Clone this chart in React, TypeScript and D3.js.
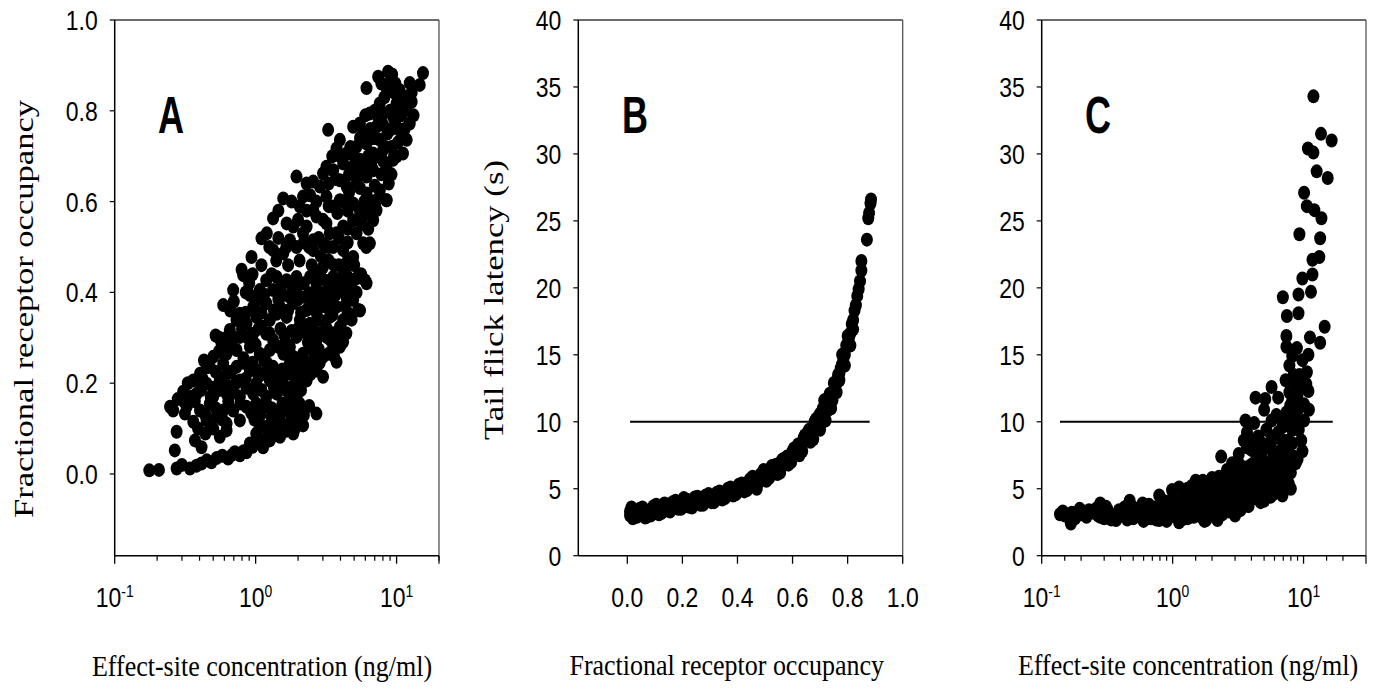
import React from 'react';
import * as d3 from 'd3';

// Panel A: [effect-site concentration (ng/ml), fractional receptor occupancy]
const occupancyVsConcentration: [number, number][] = [
  [6.12,0.850],[7.4,0.875],[8.7,0.886],[8.95,0.861],[15.4,0.883],[14.6,0.857],[12.4,0.861],[10.5,0.846],[11.8,0.831],[10.0,0.816],
  [7.6,0.816],[6.46,0.794],[8.03,0.794],[9.45,0.787],[11.8,0.802],[12.4,0.772],[10.5,0.758],[11.8,0.736],[11.1,0.706],[9.45,0.692],
  [8.48,0.677],[7.2,0.765],[7.6,0.736],[8.03,0.714],[6.82,0.706],[3.27,0.758],[4.92,0.765],[5.49,0.772],[5.8,0.750],[3.96,0.736],
  [3.75,0.717],[4.42,0.706],[5.2,0.721],[6.12,0.728],[6.82,0.669],[6.12,0.655],[3.18,0.677],[3.01,0.662],[3.55,0.669],[4.18,0.684],
  [4.92,0.677],[5.49,0.692],[1.95,0.655],[2.56,0.644],[2.86,0.633],[3.96,0.647],[4.42,0.633],[5.2,0.640],[6.12,0.618],[7.6,0.625],
  [8.48,0.603],[7.2,0.581],[6.82,0.559],[1.57,0.607],[2.17,0.611],[2.43,0.614],[2.06,0.589],[2.56,0.581],[3.18,0.611],[3.55,0.589],
  [3.96,0.603],[4.92,0.596],[5.49,0.581],[4.92,0.559],[4.18,0.545],[3.75,0.530],[1.33,0.563],[1.66,0.552],[1.85,0.545],[2.30,0.545],
  [2.70,0.567],[3.18,0.552],[3.36,0.530],[3.01,0.508],[2.56,0.515],[2.17,0.530],[1.10,0.519],[1.33,0.493],[1.57,0.486],[1.95,0.500],
  [2.56,0.493],[3.55,0.500],[4.18,0.493],[4.92,0.478],[5.8,0.508],[6.46,0.508],[5.2,0.530],[0.935,0.478],[0.795,0.450],
  [9.0,0.80],[9.8,0.77],[10.2,0.73],[8.6,0.75],[9.2,0.72],[12.8,0.82],[13.2,0.79],[10.8,0.79],[8.2,0.83],[9.6,0.84],
  [7.0,0.74],[6.6,0.68],[7.8,0.66],[8.8,0.64],[7.0,0.635],[5.9,0.60],[6.7,0.60],[8.49,0.603],[7.2,0.603],[6.7,0.574],
  [6.1,0.50],[5.96,0.427],[5.5,0.36],[4.07,0.288],[5.0,0.46],[4.5,0.47],[4.6,0.42],[5.2,0.40],[5.7,0.55],[6.3,0.54],
  [0.816,0.438],[1.19,0.427],[1.41,0.434],[1.66,0.427],[1.95,0.434],[2.43,0.434],[2.86,0.442],[3.55,0.434],[4.42,0.438],[5.2,0.431],
  [6.12,0.420],[0.693,0.405],[0.910,0.394],[1.07,0.405],[1.33,0.405],[1.57,0.394],[1.95,0.405],[2.43,0.398],[2.86,0.398],[3.36,0.416],
  [3.96,0.412],[4.42,0.390],[4.92,0.383],[5.34,0.361],[0.589,0.372],[0.773,0.353],[0.961,0.368],[1.19,0.376],[1.49,0.368],[1.85,0.376],
  [2.30,0.361],[2.56,0.376],[3.18,0.368],[3.75,0.368],[4.18,0.339],[0.656,0.317],[0.732,0.339],[0.861,0.331],[1.01,0.346],[1.26,0.339],
  [1.41,0.353],[1.66,0.346],[2.06,0.339],[2.43,0.331],[2.86,0.339],[3.36,0.346],[3.96,0.324],[4.18,0.291],[3.96,0.280],[0.573,0.287],
  [0.773,0.302],[0.961,0.309],[1.19,0.309],[1.33,0.295],[1.66,0.287],[1.95,0.302],[2.30,0.309],[2.70,0.295],[3.18,0.302],[3.55,0.280],
  [0.500,0.258],[0.622,0.265],[0.732,0.273],[0.910,0.280],[1.07,0.265],[1.26,0.273],[1.57,0.265],[1.85,0.258],[2.17,0.265],[2.56,0.273],
  [3.01,0.258],[3.75,0.247],[0.403,0.221],[0.473,0.236],[0.589,0.243],[0.732,0.236],[0.910,0.228],[1.13,0.221],[1.33,0.236],[1.66,0.221],
  [1.95,0.228],[2.30,0.236],[2.70,0.228],[3.01,0.214],[0.361,0.206],[0.449,0.199],[0.557,0.206],[0.656,0.192],[0.773,0.206],[1.01,0.199],
  [1.26,0.206],[1.57,0.199],[1.95,0.199],[2.30,0.206],[0.306,0.181],[0.382,0.177],[0.500,0.170],[0.622,0.177],[0.773,0.170],[0.961,0.177],
  [1.19,0.170],[1.41,0.177],[1.66,0.184],[1.95,0.170],[0.247,0.148],[0.324,0.148],[0.403,0.140],[0.473,0.155],[0.589,0.140],[0.693,0.140],
  [0.861,0.148],[1.01,0.155],[1.19,0.155],[1.41,0.133],[1.66,0.140],[1.95,0.140],[2.70,0.133],[0.315,0.133],[0.361,0.115],[0.449,0.118],
  [0.528,0.126],[0.622,0.111],[0.773,0.118],[1.07,0.104],[1.19,0.104],[1.49,0.118],[1.75,0.111],[2.17,0.107],[0.275,0.093],[0.371,0.074],
  [0.440,0.089],[0.413,0.059],[0.557,0.082],[0.622,0.096],[1.01,0.089],[1.26,0.074],[1.49,0.082],[1.85,0.089],[0.267,0.052],[0.910,0.067],
  [1.13,0.059],[0.861,0.052],[0.176,0.008],[0.206,0.009],[0.275,0.012],[0.342,0.012],[0.413,0.023],[0.486,0.026],[0.528,0.035],[0.638,0.034],
  [0.712,0.048],[0.773,0.041],[0.861,0.048],
  [0.9,0.42],[1.3,0.44],[1.8,0.415],[2.2,0.42],[2.6,0.445],[3.2,0.425],[4.0,0.43],[4.8,0.41],[5.6,0.44],[1.05,0.385],
  [1.45,0.385],[2.0,0.385],[2.65,0.39],[3.3,0.385],[4.2,0.405],[0.66,0.36],[0.85,0.355],[1.1,0.355],[1.35,0.36],[1.7,0.36],
  [2.1,0.355],[2.7,0.355],[3.0,0.37],[3.5,0.35],[4.5,0.355],[4.8,0.34],[0.62,0.3],[0.8,0.32],[1.1,0.325],[1.5,0.32],
  [1.8,0.315],[2.2,0.325],[2.6,0.315],[3.2,0.32],[3.6,0.31],[4.4,0.31],[0.52,0.305],[0.55,0.27],[0.68,0.28],[0.82,0.255],
  [1.0,0.285],[1.15,0.25],[1.45,0.28],[1.75,0.28],[2.0,0.25],[2.4,0.285],[2.8,0.275],[3.3,0.265],[3.6,0.26],[0.43,0.25],
  [0.52,0.225],[0.67,0.225],[0.82,0.245],[1.0,0.23],[1.2,0.245],[1.45,0.215],[1.75,0.245],[2.1,0.215],[2.45,0.22],[2.85,0.245],
  [0.33,0.2],[0.41,0.185],[0.5,0.19],[0.6,0.2],[0.7,0.18],[0.86,0.19],[1.1,0.185],[1.35,0.19],[1.8,0.19],[2.1,0.185],
  [0.28,0.165],[0.37,0.16],[0.44,0.13],[0.52,0.145],[0.64,0.16],[0.78,0.155],[0.93,0.135],[1.1,0.14],[1.3,0.125],[1.55,0.155],
  [1.8,0.125],[2.2,0.13],[0.3,0.02],[0.38,0.018],[0.45,0.03],[0.58,0.04],[0.68,0.042],[0.82,0.05],[0.95,0.06],[1.05,0.075],
  [1.2,0.08],[1.35,0.085],[1.6,0.1],[1.9,0.1],[2.05,0.115],[1.2,0.53],[1.45,0.52],[1.75,0.515],[2.4,0.5],[2.9,0.48],
  [3.3,0.47],[3.9,0.46],[4.5,0.51],[3.0,0.56],[3.8,0.575],[4.5,0.58],[5.8,0.57],[6.2,0.59],[2.3,0.58],[1.8,0.6],
  [1.45,0.58],[2.3,0.64],[3.3,0.64],[3.7,0.65],[4.6,0.66],[5.4,0.66],[5.8,0.68],[4.0,0.7],[4.7,0.72],[3.5,0.7],
  [5.5,0.74],[6.5,0.76],[6.0,0.79],[7.5,0.78],[8.5,0.85],[9.8,0.86],[11.0,0.82],[11.4,0.76],[12.8,0.84],[7.0,0.80],
  [8.0,0.77],[10.0,0.7],[9.2,0.66],[8.0,0.69],
  [0.35,0.17],[0.42,0.21],[0.48,0.17],[0.55,0.185],[0.62,0.22],[0.72,0.2],[0.85,0.21],[0.95,0.245],[1.05,0.215],[1.25,0.225],
  [1.55,0.23],[1.9,0.21],[2.2,0.245],[2.55,0.25],[0.45,0.235],[0.55,0.3],[0.7,0.3],[0.88,0.3],[1.05,0.32],[1.25,0.31],
  [1.6,0.305],[2.0,0.32],[2.35,0.29],[2.95,0.31],[3.4,0.295],[3.8,0.3],[0.7,0.38],[0.85,0.4],[1.15,0.395],[1.5,0.41],
  [1.75,0.39],[2.25,0.39],[2.7,0.42],[3.1,0.4],[3.7,0.395],[4.3,0.37],[0.95,0.44],[1.1,0.46],[1.4,0.47],[1.7,0.46],
  [2.05,0.47],[2.5,0.46],[3.0,0.455],[3.6,0.46],[4.2,0.45],[1.25,0.5],[1.65,0.5],[2.2,0.51],[2.8,0.52],[3.3,0.5],
  [3.9,0.52],[4.5,0.54],[2.0,0.56],[2.7,0.6],[3.3,0.59],[4.2,0.6],[4.6,0.62],[5.5,0.63],[5.0,0.7],[6.3,0.7],
  [6.8,0.74],[7.4,0.7],[8.3,0.72],[9.2,0.76],[10.2,0.81],[7.8,0.86],[9.3,0.88],[10.8,0.74],[9.6,0.7],[0.31,0.16],
  [0.26,0.14],[0.39,0.1],[0.5,0.1],[0.58,0.12],[0.98,0.12],[1.08,0.13],[1.4,0.1],[1.65,0.095],[2.0,0.12],[1.3,0.145],
  [1.5,0.14],[1.75,0.16],[2.05,0.155],[2.4,0.15],
];

// Panel B: [fractional receptor occupancy, tail flick latency (s)]
const latencyVsOccupancy: [number, number][] = [
  [0.01,3.0],[0.01,3.3],[0.02,3.1],[0.03,3.4],[0.04,3.0],[0.05,3.3],[0.06,3.2],[0.07,2.9],[0.08,3.4],[0.09,3.2],
  [0.10,3.5],[0.11,3.3],[0.12,3.6],[0.13,3.4],[0.14,3.7],[0.15,3.5],[0.16,3.8],[0.17,3.6],[0.18,3.9],[0.19,3.6],
  [0.20,3.9],[0.21,3.7],[0.22,4.0],[0.23,3.8],[0.24,4.1],[0.25,3.9],[0.26,4.2],[0.27,4.0],[0.28,4.3],[0.29,4.1],
  [0.30,4.4],[0.31,4.2],[0.32,4.5],[0.33,4.3],[0.34,4.6],[0.35,4.5],[0.36,4.8],[0.37,4.6],[0.38,4.9],[0.39,4.7],
  [0.40,5.1],[0.41,4.9],[0.42,5.3],[0.43,5.1],[0.44,5.5],[0.45,5.3],[0.46,5.7],[0.47,5.0],[0.48,5.9],[0.49,5.8],
  [0.50,6.2],[0.51,6.0],[0.52,6.5],[0.53,6.3],[0.54,6.8],[0.55,6.3],[0.56,7.1],[0.57,6.8],[0.58,7.4],[0.59,7.2],
  [0.60,7.8],[0.61,7.6],[0.62,8.3],[0.63,8.1],[0.64,8.8],[0.65,8.6],[0.66,9.4],[0.67,9.1],[0.68,10.0],[0.69,9.8],
  [0.70,10.6],[0.71,10.4],[0.72,11.3],[0.73,11.0],[0.74,12.0],[0.75,12.3],[0.76,12.9],[0.77,13.6],[0.78,14.3],[0.79,15.0],
  [0.80,15.8],[0.81,16.6],[0.82,17.6],[0.83,18.7],[0.84,19.9],[0.845,20.5],[0.85,21.3],[0.85,22.0],[0.87,23.6],[0.875,25.2],
  [0.878,25.6],[0.883,26.3],[0.885,26.6],
  [0.015,3.6],[0.035,2.9],[0.055,3.6],[0.075,3.2],[0.095,3.7],[0.115,3.1],[0.135,3.9],[0.155,3.3],[0.175,4.1],[0.195,3.5],
  [0.215,4.2],[0.235,3.6],[0.255,4.4],[0.275,3.8],[0.295,4.6],[0.315,4.0],[0.335,4.8],[0.355,4.3],[0.375,5.1],[0.395,4.6],
  [0.415,5.4],[0.435,4.9],[0.455,5.9],[0.475,5.4],[0.495,6.4],[0.515,5.8],[0.535,6.7],[0.555,6.2],[0.575,7.3],[0.595,7.0],
  [0.615,8.1],[0.635,7.8],[0.655,9.2],[0.675,8.7],[0.695,10.4],[0.705,9.9],[0.715,11.6],[0.725,10.8],[0.735,12.1],[0.745,11.6],
  [0.755,12.8],[0.765,13.5],[0.775,14.0],[0.785,14.8],[0.795,15.7],[0.805,16.3],[0.815,17.3],[0.825,18.3],[0.835,19.4],
  [0.02,2.8],[0.045,3.5],[0.065,2.85],[0.085,3.0],[0.105,3.8],[0.125,3.2],[0.145,3.4],[0.165,4.0],[0.185,3.5],[0.205,4.3],
  [0.225,3.65],[0.245,4.35],[0.265,3.8],[0.285,4.5],[0.305,4.0],[0.325,4.7],[0.345,4.2],[0.365,5.0],[0.385,4.5],[0.405,5.3],
  [0.425,4.8],[0.445,5.7],[0.465,5.2],[0.485,6.1],[0.505,5.6],[0.525,6.7],[0.545,6.1],[0.565,7.2],[0.585,6.8],[0.605,8.0],
  [0.625,7.5],[0.645,9.0],[0.665,8.5],[0.685,10.2],[0.70,9.4],[0.71,11.0],[0.72,10.1],[0.73,11.8],[0.74,11.0],[0.75,12.9],
  [0.76,12.2],[0.77,13.1],[0.78,15.0],[0.79,14.2],[0.80,16.4],[0.81,15.7],[0.82,16.9],
];

// Panel C: [effect-site concentration (ng/ml), tail flick latency (s)]
const latencyVsConcentration: [number, number][] = [
  [11.9,34.3],[13.6,31.5],[16.4,31.0],[10.8,30.4],[11.9,30.1],[12.6,28.7],[15.3,28.2],[10.1,27.1],[10.6,26.1],[12.1,25.8],
  [13.7,25.2],[9.3,24.0],[13.4,23.7],[13.2,22.3],[11.7,22.1],[11.7,21.0],[9.8,20.7],[11.4,19.7],[9.15,19.5],[6.95,19.3],
  [9.15,18.1],[7.46,17.9],[14.5,17.1],[7.4,16.4],[11.2,16.3],[13.4,15.9],[7.4,15.6],[8.9,15.5],[8.2,14.9],[10.9,15.0],
  [9.8,14.6],[10.6,13.7],[7.3,13.1],[8.7,12.8],[9.8,12.6],[10.9,12.3],[5.7,12.6],[4.3,11.8],[5.1,11.7],[6.4,11.8],
  [8.2,11.6],[10.1,11.3],[11.0,10.9],[5.0,10.9],[7.4,10.7],[8.7,10.8],[10.1,10.1],[3.6,10.1],[4.2,9.9],[5.7,10.1],
  [6.9,9.6],[8.2,9.4],[3.7,9.2],[4.5,8.9],[5.7,8.9],[6.9,8.6],[8.2,8.4],[9.8,7.8],[3.2,7.6],[4.0,7.9],
  [4.8,7.6],[5.9,7.4],[7.7,7.4],[2.35,7.4],[2.85,6.9],[3.7,6.6],[4.5,6.6],[5.7,6.4],[7.4,6.6],[8.7,6.9],
  [7.7,5.4],[5.9,4.6],[5.0,4.1],[3.8,3.7],[3.3,3.4],[2.26,2.9],[1.8,2.67],[1.5,5.6],[1.6,5.1],[1.9,5.3],
  [2.26,5.9],[2.7,5.6],[3.2,5.9],[3.7,5.1],[4.3,5.6],[5.0,5.1],[2.5,4.6],[3.2,4.3],[2.1,4.1],[1.8,4.4],
  [1.45,4.6],[1.12,5.1],[0.99,4.9],[0.79,4.5],[1.26,4.1],[1.05,3.66],[0.9,3.9],[0.76,3.4],[1.12,2.5],[1.75,2.6],
  [1.5,3.66],[0.66,3.8],[0.59,3.9],[0.47,4.1],[0.56,3.4],[0.47,3.1],[0.39,3.4],[0.37,2.67],[0.33,3.1],[0.28,3.9],
  [0.28,2.9],[0.23,3.4],[0.195,3.5],[0.167,2.4],[0.164,3.1],[0.138,3.1],[0.20,3.1],[0.31,3.66],[0.44,3.66],[0.62,3.1],
  [0.79,2.67],[0.94,3.4],[1.34,3.4],[2.0,3.4],[2.5,3.66],[2.2,2.67],[3.7,8.1],[5.4,8.1],[4.3,7.1],[5.7,5.9],
  [6.4,5.6],[3.8,6.1],[0.15,3.0],[0.25,3.2],[0.35,3.0],[0.42,3.3],[0.52,3.0],[0.7,3.2],[0.85,3.0],[1.0,3.2],
  [1.2,3.0],[1.4,3.1],[1.7,3.2],[0.6,2.6],[0.45,2.7],[0.3,2.8],[0.9,2.6],[1.3,2.8],[1.0,4.3],[1.4,4.3],
  [2.4,3.1],[2.9,3.7],[2.8,4.8],[2.0,4.9],[3.5,4.6],[4.2,4.3],[4.6,5.0],[3.0,3.0],
  [0.145,3.3],[0.17,3.2],[0.18,2.8],[0.21,3.3],[0.22,2.9],[0.26,3.5],[0.27,3.0],[0.32,3.4],[0.34,2.7],[0.4,3.0],
  [0.43,3.6],[0.5,3.6],[0.5,2.8],[0.55,3.1],[0.65,3.3],[0.68,2.8],[0.72,3.6],[0.75,2.7],[0.82,3.5],[0.88,3.2],
  [0.95,2.9],[1.08,3.4],[1.15,3.9],[1.18,2.7],[1.25,3.6],[1.35,3.9],[1.45,2.9],[1.55,3.4],[1.6,4.0],[1.65,2.9],
  [1.85,3.6],[1.95,3.0],[2.15,3.9],[2.3,3.4],[2.6,4.1],[2.7,3.3],[3.1,3.5],[3.5,3.9],[1.2,4.7],[1.3,5.0],
  [1.6,4.6],[1.9,4.7],[2.2,5.1],[2.4,5.4],[2.9,5.3],[3.0,6.3],[3.4,6.6],[4.0,6.8],[4.4,6.0],[5.2,6.2],
  [6.0,7.0],[6.6,7.8],[7.2,8.0],[3.9,5.4],[4.8,5.6],[5.4,5.3],[6.6,6.2],[7.0,5.0],[5.6,4.4],[6.2,8.8],
  [7.6,9.8],[8.6,10.3],[9.2,11.0],[6.2,10.5],[7.8,12.2],[9.3,13.5],[10.5,12.8],
  [3.4,5.0],[3.9,4.8],[4.4,4.6],[4.9,4.6],[5.3,5.8],[6.0,5.4],[6.8,5.2],[7.4,5.9],[8.0,6.2],[8.4,7.4],
  [9.0,7.2],[9.6,8.6],[9.2,9.4],[7.6,8.6],[6.4,9.2],[5.2,9.4],[4.8,8.4],[4.0,8.6],[3.5,8.6],[3.2,6.9],
  [2.6,6.4],[2.5,5.2],[3.6,5.6],[4.0,4.4],[4.7,4.0],[5.4,4.8],[6.2,4.8],[6.9,4.5],[8.0,5.0],[6.3,6.8],
  [7.2,7.2],[5.0,7.0],[4.6,7.8],[5.6,8.2],[6.8,10.2],[7.9,11.2],[9.0,12.0],[8.4,13.5],[7.8,14.2],
  [1.1,4.0],[1.2,3.4],[1.4,3.7],[1.7,3.8],[1.9,4.2],[2.1,3.6],[2.3,4.5],[2.5,3.9],[2.7,4.4],[1.4,5.2],
  [1.7,5.6],[2.0,5.8],[1.0,3.6],[0.85,4.1],
];

const thresholdLatency = 10;
const thresholdSpanB: [number, number] = [0.01, 0.88];
const thresholdSpanC: [number, number] = [0.138, 16.7];

const occupancyTicks = [0, 0.2, 0.4, 0.6, 0.8, 1.0];
const latencyTicks = [0, 5, 10, 15, 20, 25, 30, 35, 40];
const occupancyXTicks = [0, 0.2, 0.4, 0.6, 0.8, 1.0];
const decadeTicks = [0.1, 1, 10];
const decadeExponents = ['-1', '0', '1'];
const minorTicksA = [0.2, 0.3, 0.4, 0.5, 0.6, 0.7, 0.8, 0.9, 2, 3, 4, 5, 6, 7, 8, 9, 20];
const minorTicksC = [0.15, 0.2, 0.3, 0.4, 0.5, 0.6, 0.7, 0.8, 0.9, 1.5, 2, 3, 4, 5, 6, 7, 8, 9, 15, 20];

const TOP = 20;
const BOTTOM = 555.7;
const SANS = '"Liberation Sans Narrow", "Arial Narrow", "Liberation Sans", Arial, sans-serif';
const SERIF = '"Liberation Serif", "Times New Roman", Times, serif';
const NARROW_SCALE = 0.82;
const RX = 6;
const RY = 7;

function NText({ x, y, anchor, size, children }: { x: number; y: number; anchor: string; size: number; children: React.ReactNode }) {
  return (
    <text
      transform={`translate(${x},${y}) scale(${NARROW_SCALE},1)`}
      textAnchor={anchor}
      fontFamily={SANS}
      fontSize={size}
      fill="#000"
    >
      {children}
    </text>
  );
}

function Frame({ left, right }: { left: number; right: number }) {
  return (
    <g>
      <line x1={left} x2={right} y1={TOP} y2={TOP} stroke="#3a3a3a" strokeWidth={1.3} />
      <line x1={right} x2={right} y1={TOP} y2={BOTTOM} stroke="#555" strokeWidth={1.3} />
      <line x1={left} x2={left} y1={TOP} y2={BOTTOM} stroke="#000" strokeWidth={1.5} />
      <line x1={left} x2={right} y1={BOTTOM} y2={BOTTOM} stroke="#000" strokeWidth={1.5} />
    </g>
  );
}

function YAxis({ scale, ticks, left, fmt }: { scale: d3.ScaleLinear<number, number>; ticks: number[]; left: number; fmt: (v: number) => string }) {
  return (
    <g>
      {ticks.map((t) => (
        <g key={t}>
          <line x1={left - 5} x2={left} y1={scale(t)} y2={scale(t)} stroke="#000" strokeWidth={1.2} />
          <NText x={left - 17} y={scale(t) + 10} anchor="end" size={28}>
            {fmt(t)}
          </NText>
        </g>
      ))}
    </g>
  );
}

function LogXAxis({ scale, minor }: { scale: d3.ScaleLogarithmic<number, number>; minor: number[] }) {
  return (
    <g>
      {minor.map((t) => (
        <line key={'m' + t} x1={scale(t)} x2={scale(t)} y1={BOTTOM} y2={BOTTOM + 5} stroke="#000" strokeWidth={1.2} />
      ))}
      <line x1={scale.range()[1]} x2={scale.range()[1]} y1={BOTTOM} y2={BOTTOM + 8} stroke="#000" strokeWidth={1.2} />
      {decadeTicks.map((t, i) => (
        <g key={'M' + t}>
          <line x1={scale(t)} x2={scale(t)} y1={BOTTOM} y2={BOTTOM + 8} stroke="#000" strokeWidth={1.3} />
          <NText x={scale(t)} y={607} anchor="middle" size={28}>
            10
            <tspan fontSize={17} dy={-10}>{decadeExponents[i]}</tspan>
          </NText>
        </g>
      ))}
    </g>
  );
}

function Dots({ data, x, y }: { data: [number, number][]; x: (v: number) => number; y: (v: number) => number }) {
  return (
    <g>
      {data.map((d, i) => (
        <ellipse key={i} cx={x(d[0])} cy={y(d[1])} rx={RX} ry={RY} fill="#000" />
      ))}
    </g>
  );
}

function PanelLetter({ x, label }: { x: number; label: string }) {
  return (
    <text x={x} y={133} fontFamily={SANS} fontWeight="bold" fontSize={52} textLength={26} lengthAdjust="spacingAndGlyphs" fill="#000">
      {label}
    </text>
  );
}

function XTitle({ x, y, label }: { x: number; y: number; label: string }) {
  return (
    <text transform={`translate(${x},${y}) scale(1,1.15)`} textAnchor="middle" fontFamily={SERIF} fontSize={26} fill="#000">
      {label}
    </text>
  );
}

export default function App() {
  // Panel A
  const aLeft = 114.7, aRight = 439;
  const xA = d3.scaleLog().domain([0.1, 20]).range([aLeft, aRight]);
  const yA = d3.scaleLinear().domain([-0.18, 1.0]).range([BOTTOM, TOP]);

  // Panel B
  const bLeft = 578.3, bRight = 902.7;
  const xB = d3.scaleLinear().domain([-0.178, 1.0]).range([bLeft, bRight]);
  const yB = d3.scaleLinear().domain([0, 40]).range([BOTTOM, TOP]);

  // Panel C
  const cLeft = 1041.7, cRight = 1366;
  const xC = d3.scaleLog().domain([0.1, 30]).range([cLeft, cRight]);
  const yC = d3.scaleLinear().domain([0, 40]).range([BOTTOM, TOP]);

  const fmt1 = d3.format('.1f');
  const fmt0 = d3.format('d');

  return (
    <svg width={1381} height={690} style={{ position: 'absolute', left: 0, top: 0, background: '#fff' }}>
      <rect x={0} y={0} width={1381} height={690} fill="#fff" />

      {/* Panel A */}
      <Dots data={occupancyVsConcentration} x={xA} y={yA} />
      <Frame left={aLeft} right={aRight} />
      <YAxis scale={yA} ticks={occupancyTicks} left={aLeft} fmt={fmt1} />
      <LogXAxis scale={xA} minor={minorTicksA} />
      <PanelLetter x={158} label="A" />
      <text transform="translate(33,309) rotate(-90)" textAnchor="middle" fontFamily={SERIF} fontSize={27} textLength={418} lengthAdjust="spacingAndGlyphs" fill="#000">
        Fractional receptor occupancy
      </text>
      <XTitle x={262} y={676} label="Effect-site concentration (ng/ml)" />

      {/* Panel B */}
      <Dots data={latencyVsOccupancy} x={xB} y={yB} />
      <line x1={xB(thresholdSpanB[0])} x2={xB(thresholdSpanB[1])} y1={yB(thresholdLatency)} y2={yB(thresholdLatency)} stroke="#000" strokeWidth={2} />
      <Frame left={bLeft} right={bRight} />
      <YAxis scale={yB} ticks={latencyTicks} left={bLeft} fmt={fmt0} />
      {occupancyXTicks.map((t) => (
        <g key={'bx' + t}>
          <line x1={xB(t)} x2={xB(t)} y1={BOTTOM} y2={BOTTOM + 8} stroke="#000" strokeWidth={1.3} />
          <NText x={xB(t)} y={607} anchor="middle" size={28}>
            {fmt1(t)}
          </NText>
        </g>
      ))}
      <PanelLetter x={622} label="B" />
      <text transform="translate(503,300) rotate(-90)" textAnchor="middle" fontFamily={SERIF} fontSize={27} textLength={280} lengthAdjust="spacingAndGlyphs" fill="#000">
        Tail flick latency (s)
      </text>
      <XTitle x={726.7} y={675} label="Fractional receptor occupancy" />

      {/* Panel C */}
      <Dots data={latencyVsConcentration} x={xC} y={yC} />
      <line x1={xC(thresholdSpanC[0])} x2={xC(thresholdSpanC[1])} y1={yC(thresholdLatency)} y2={yC(thresholdLatency)} stroke="#000" strokeWidth={2} />
      <Frame left={cLeft} right={cRight} />
      <YAxis scale={yC} ticks={latencyTicks} left={cLeft} fmt={fmt0} />
      <LogXAxis scale={xC} minor={minorTicksC} />
      <PanelLetter x={1085} label="C" />
      <XTitle x={1188} y={675} label="Effect-site concentration (ng/ml)" />
    </svg>
  );
}
